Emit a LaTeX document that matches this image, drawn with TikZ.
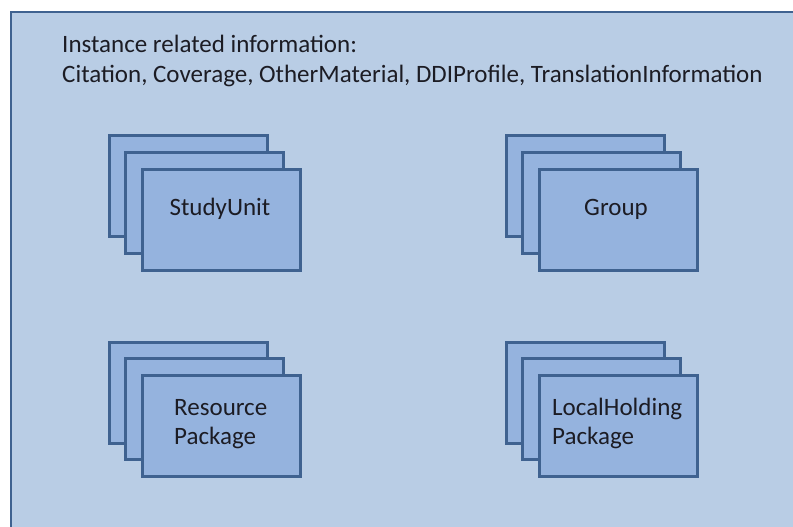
\documentclass[tikz,border=0pt]{standalone}
\usepackage{fontspec}
\setmainfont{Carlito}
\definecolor{outerfill}{HTML}{B9CDE5}
\definecolor{boxfill}{HTML}{95B3DE}
\definecolor{boxline}{HTML}{3F6290}
\definecolor{inktext}{HTML}{1C1C24}
\tikzset{
  card/.style={draw=boxline, line width=2.6pt, fill=boxfill, minimum width=158pt, minimum height=101pt, inner sep=0pt},
  cardtext/.style={font=\fontsize{25}{29}\selectfont, align=left, text=inktext, inner sep=0pt},
}
\begin{document}
\begin{tikzpicture}[x=1pt,y=-1pt]
\useasboundingbox (0,0) rectangle (793,527);
\clip (0,0) rectangle (793,527);
\node[draw=boxline, line width=2.4pt, fill=outerfill, anchor=north west, minimum width=800pt, minimum height=530pt, inner sep=0pt] (frame) at (10,11) {};
\node[anchor=base west, font=\fontsize{25}{30}\selectfont, align=left, inner sep=0pt, text=inktext] (info) at (62,82)
  {Instance related information:\\Citation, Coverage, OtherMaterial, DDIProfile, TranslationInformation};
% StudyUnit stack
\node[card, anchor=north west] (su1) at (108,134) {};
\node[card, anchor=north west] (su2) at (124,151) {};
\node[card, anchor=north west] (su3) at (141,168) {};
\node[cardtext, anchor=base] (sut) at (220,215) {StudyUnit};
% Group stack
\node[card, anchor=north west] (gr1) at (505,134) {};
\node[card, anchor=north west] (gr2) at (521,151) {};
\node[card, anchor=north west] (gr3) at (538,168) {};
\node[cardtext, anchor=base] (grt) at (616,215) {Group};
% Resource Package stack
\node[card, anchor=north west] (rp1) at (108,341) {};
\node[card, anchor=north west] (rp2) at (124,357) {};
\node[card, anchor=north west] (rp3) at (141,374) {};
\node[cardtext, anchor=base west] (rpt) at (174,444) {Resource\\Package};
% LocalHolding Package stack
\node[card, anchor=north west] (lh1) at (505,341) {};
\node[card, anchor=north west] (lh2) at (521,357) {};
\node[card, anchor=north west] (lh3) at (538,374) {};
\node[cardtext, anchor=base west] (lht) at (552,444) {LocalHolding\\Package};
\end{tikzpicture}
\end{document}
